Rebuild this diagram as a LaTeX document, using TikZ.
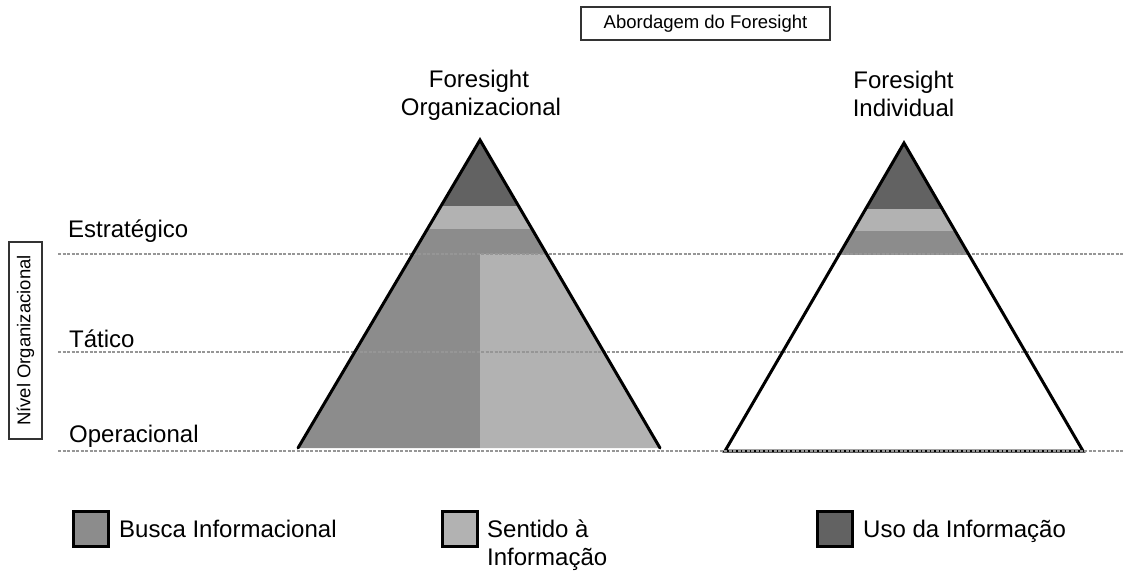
\documentclass[tikz,border=0pt]{standalone}
\usepackage{fontspec}
\setmainfont{Liberation Sans}
\definecolor{dkg}{RGB}{98,98,98}
\definecolor{mdg}{RGB}{140,140,140}
\definecolor{ltg}{RGB}{178,178,178}
\definecolor{dotg}{RGB}{150,150,150}
\begin{document}
\begin{tikzpicture}[x=1pt,y=-1pt,
  lbl/.style={font=\fontsize{24}{28}\selectfont, inner sep=0pt, anchor=base west},
  ttl/.style={font=\fontsize{24}{28}\selectfont, inner sep=0pt, anchor=base},
  smallbox/.style={font=\fontsize{18.5}{22}\selectfont, draw=black!80, line width=1.5pt, inner sep=0pt},
  lvl/.style={draw=dotg, line width=2.8pt, dash pattern=on 3pt off 1.5pt},
  pyredge/.style={line width=3pt, line join=miter, line cap=round},
  swatch/.style={draw=black, line width=3pt, minimum size=35pt, inner sep=0pt}]
\useasboundingbox (0,0) rectangle (1125,573);

% ---------- left pyramid ----------
\coordinate (LA) at (480,140);
\coordinate (LL) at (298,448);
\coordinate (LR) at (660,448);
\begin{scope}
  \clip (LA) -- (LL) -- (LR) -- cycle;
  \fill[dkg] (290,130) rectangle (670,206);
  \fill[ltg] (290,206) rectangle (670,229);
  \fill[mdg] (290,229) rectangle (670,254);
  \fill[mdg] (290,254) rectangle (480,452);
  \fill[ltg] (480,254) rectangle (670,452);
\end{scope}

% ---------- right pyramid ----------
\coordinate (RA) at (904,143);
\coordinate (RL) at (725,451);
\coordinate (RR) at (1083,451);
\begin{scope}
  \clip (RA) -- (RL) -- (RR) -- cycle;
  \fill[dkg] (715,130) rectangle (1095,209);
  \fill[ltg] (715,209) rectangle (1095,231);
  \fill[mdg] (715,231) rectangle (1095,255);
\end{scope}

% ---------- level lines ----------
\coordinate (S1) at (58,254);  \coordinate (S2) at (1124,254);
\coordinate (T1) at (58,352);  \coordinate (T2) at (1124,352);
\coordinate (O1) at (58,451);  \coordinate (O2) at (1124,451);
\draw[lvl] (S1) -- (S2);
\draw[lvl] (T1) -- (T2);

% ---------- pyramid outlines ----------
\draw[pyredge] (LL) -- (LA) -- (LR);
\draw[pyredge] (RL) -- (RA) -- (RR) -- cycle;
\draw[lvl] (O1) -- (O2);

% ---------- level labels ----------
\node[lbl] (estr) at (68,237) {Estratégico};
\node[lbl] (tat) at (69,347) {Tático};
\node[lbl] (oper) at (69,442) {Operacional};
\node[smallbox, rotate=90, minimum width=197pt, minimum height=33pt] (nivel) at (25.5,340.5) {Nível Organizacional};

% ---------- top ----------
\node[smallbox, minimum width=249pt, minimum height=33pt] (abord) at (705.5,23.5) {Abordagem do Foresight};
\node[ttl] (fo1) at (479,87) {Foresight};
\node[ttl] (fo2) at (481,115) {Organizacional};
\node[ttl] (fi1) at (903.5,88) {Foresight};
\node[ttl] (fi2) at (903.5,116) {Individual};

% ---------- legend ----------
\node[swatch, fill=mdg] (sw1) at (91,529) {};
\node[lbl] (lg1) at (119,537) {Busca Informacional};
\node[swatch, fill=ltg] (sw2) at (459.5,528.5) {};
\node[lbl] (lg2a) at (487,537) {Sentido à};
\node[lbl] (lg2b) at (487,565) {Informação};
\node[swatch, fill=dkg] (sw3) at (835,528.5) {};
\node[lbl] (lg3) at (863,537) {Uso da Informação};
\end{tikzpicture}
\end{document}
